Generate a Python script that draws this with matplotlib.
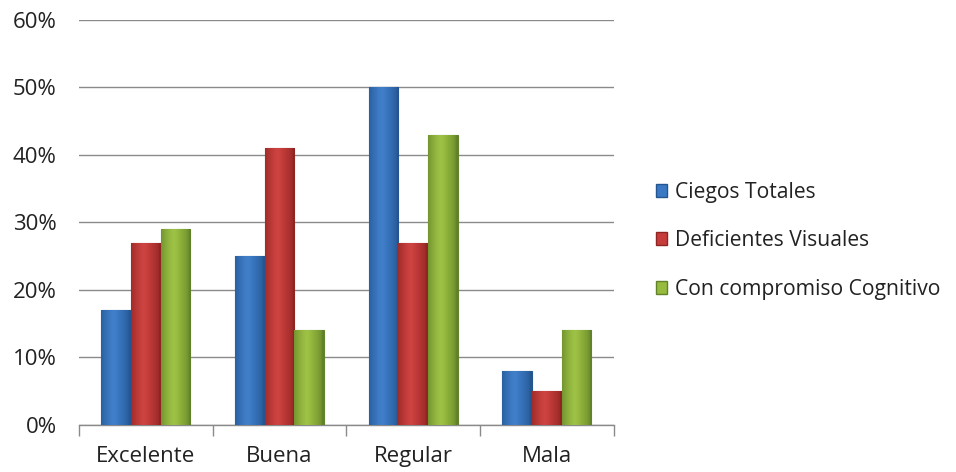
import numpy as np
import matplotlib
matplotlib.use("Agg")
import matplotlib.pyplot as plt
from matplotlib.colors import to_rgb
from matplotlib.patches import Patch

categories = ["Excelente", "Buena", "Regular", "Mala"]
series_names = ["Ciegos Totales", "Deficientes Visuales", "Con compromiso Cognitivo"]
ciegos_totales = [17, 25, 50, 8]
deficientes_visuales = [27, 41, 27, 5]
compromiso_cognitivo = [29, 14, 43, 14]
y_ticks = [0, 10, 20, 30, 40, 50, 60]
y_tick_labels = ["0%", "10%", "20%", "30%", "40%", "50%", "60%"]

colors = ["#3a78c3", "#c63c3a", "#97bb3e"]
dark = ["#24558f", "#8e2523", "#62822a"]

plt.rcParams['font.family'] = ['Open Sans', 'DejaVu Sans']
FS = 16

fig = plt.figure(figsize=(9.56, 4.72), dpi=100)
ax = fig.add_axes([0.0826, 0.0996, 0.642 - 0.0826, 0.958 - 0.0996])

data = [ciegos_totales, deficientes_visuales, compromiso_cognitivo]
w = 0.222
x = np.arange(len(categories))

def gradient_img(c, d):
    c = np.array(to_rgb(c)); d = np.array(to_rgb(d))
    t = np.linspace(0, 1, 64)
    prof = np.clip(1 - np.abs(t - 0.45) * 2.0, 0, 1) ** 0.5
    img = d[None, :] * (1 - prof[:, None]) + c[None, :] * prof[:, None]
    light = np.clip(c + 0.10, 0, 1)
    mid = np.exp(-((t - 0.4) / 0.2) ** 2)
    img = img * (1 - 0.3 * mid[:, None]) + light[None, :] * 0.3 * mid[:, None]
    return img[None, :, :]

for i, vals in enumerate(data):
    bars = ax.bar(x + (i - 1) * w, vals, w, color=colors[i], edgecolor=dark[i],
                  linewidth=0.8, zorder=3)
    img = gradient_img(colors[i], dark[i])
    for b in bars:
        x0, y0 = b.get_x(), b.get_y()
        im = ax.imshow(img, extent=[x0, x0 + b.get_width(), y0, y0 + b.get_height()],
                       aspect='auto', zorder=3.5, interpolation='bilinear')
        im.set_clip_path(b)

ax.set_xlim(-0.5, len(categories) - 0.5)
ax.set_ylim(0, 60)
ax.set_yticks(y_ticks)
ax.set_yticklabels(y_tick_labels, fontsize=FS, color="#222222")
ax.yaxis.grid(True, color="#8a8a8a", linewidth=1.0, zorder=0)
ax.set_axisbelow(True)
ax.tick_params(axis='y', length=0, pad=16)

ax.set_xticks(x)
ax.set_xticklabels(categories, fontsize=FS, color="#222222")
ax.set_xticks(np.arange(-0.5, len(categories), 1.0), minor=True)
ax.tick_params(axis='x', which='major', length=0, pad=15)
ax.tick_params(axis='x', which='minor', length=8, color="#8a8a8a", width=1.0, direction='out')

for s in ['top', 'right', 'left']:
    ax.spines[s].set_visible(False)
ax.spines['bottom'].set_color("#8a8a8a")
ax.spines['bottom'].set_linewidth(1.0)

handles = [Patch(facecolor=colors[i], edgecolor=dark[i], label=series_names[i]) for i in range(3)]
leg = fig.legend(handles=handles, loc='center left', bbox_to_anchor=(0.666, 0.49),
                 frameon=False, fontsize=15.2, handlelength=0.55, handleheight=0.55,
                 handletextpad=0.35, labelspacing=1.3)
for t in leg.get_texts():
    t.set_color("#222222")

fig.savefig("out.png", dpi=100)
